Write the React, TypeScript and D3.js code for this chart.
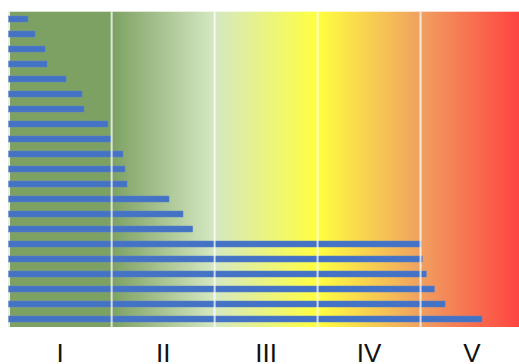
import React from "react";
import * as d3 from "d3";

const categories = Array.from({ length: 21 }, (_, i) => `Item ${i + 1}`);
const values = [
  0.187, 0.255, 0.353, 0.372, 0.557, 0.712, 0.731, 0.964, 0.994, 1.11, 1.129,
  1.149, 1.557, 1.693, 1.787, 4.005, 4.017, 4.056, 4.134, 4.238, 4.597,
];
const classLabels = ["I", "II", "III", "IV", "V"];
const gridValues = [1, 2, 3, 4];

const W = 519;
const H = 364;

export default function App() {
  const x = d3.scaleLinear().domain([0, 5]).range([8.7, 523.5]);
  const y = d3
    .scaleBand<string>()
    .domain(categories)
    .range([11.5, 326.5])
    .paddingInner(0.6)
    .paddingOuter(0.3);

  const stops = [
    { o: 0, c: "#7DA163" },
    { o: 0.2, c: "#7DA163" },
    { o: 0.4, c: "#D5E8C2" },
    { o: 0.6, c: "#FFFF40" },
    { o: 0.8, c: "#F0A060" },
    { o: 1, c: "#FF4040" },
  ];

  return (
    <svg
      width={W}
      height={H}
      style={{ position: "absolute", left: 0, top: 0, display: "block" }}
    >
      <defs>
        <linearGradient
          id="bg"
          gradientUnits="userSpaceOnUse"
          x1={x(0)}
          x2={x(5)}
          y1={0}
          y2={0}
        >
          {stops.map((s, i) => (
            <stop key={i} offset={s.o} stopColor={s.c} />
          ))}
        </linearGradient>
      </defs>
      <rect x={0} y={0} width={W} height={H} fill="#ffffff" />
      <rect
        x={x(0)}
        y={11.7}
        width={x(5) - x(0)}
        height={327 - 11.7}
        fill="url(#bg)"
      />
      <rect x={8} y={11.7} width={2} height={327 - 11.7} fill="#ececec" />
      {categories.map((c, i) => (
        <rect
          key={c}
          x={x(0)}
          y={y(c)}
          width={x(values[i]) - x(0)}
          height={y.bandwidth()}
          fill="#4472C4"
          stroke="#5b82c8"
          strokeWidth={0.5}
        />
      ))}
      {gridValues.map((g) => (
        <rect
          key={g}
          x={x(g) - 1}
          y={11.7}
          width={2}
          height={327 - 11.7}
          fill="#ffffff"
          opacity={0.75}
        />
      ))}
      {classLabels.map((l, i) => (
        <text
          key={l}
          x={x(i + 0.5)}
          y={362}
          textAnchor="middle"
          fontFamily="'Liberation Sans', Arial, sans-serif"
          fontSize={26}
          fill="#111"
        >
          {l}
        </text>
      ))}
    </svg>
  );
}
